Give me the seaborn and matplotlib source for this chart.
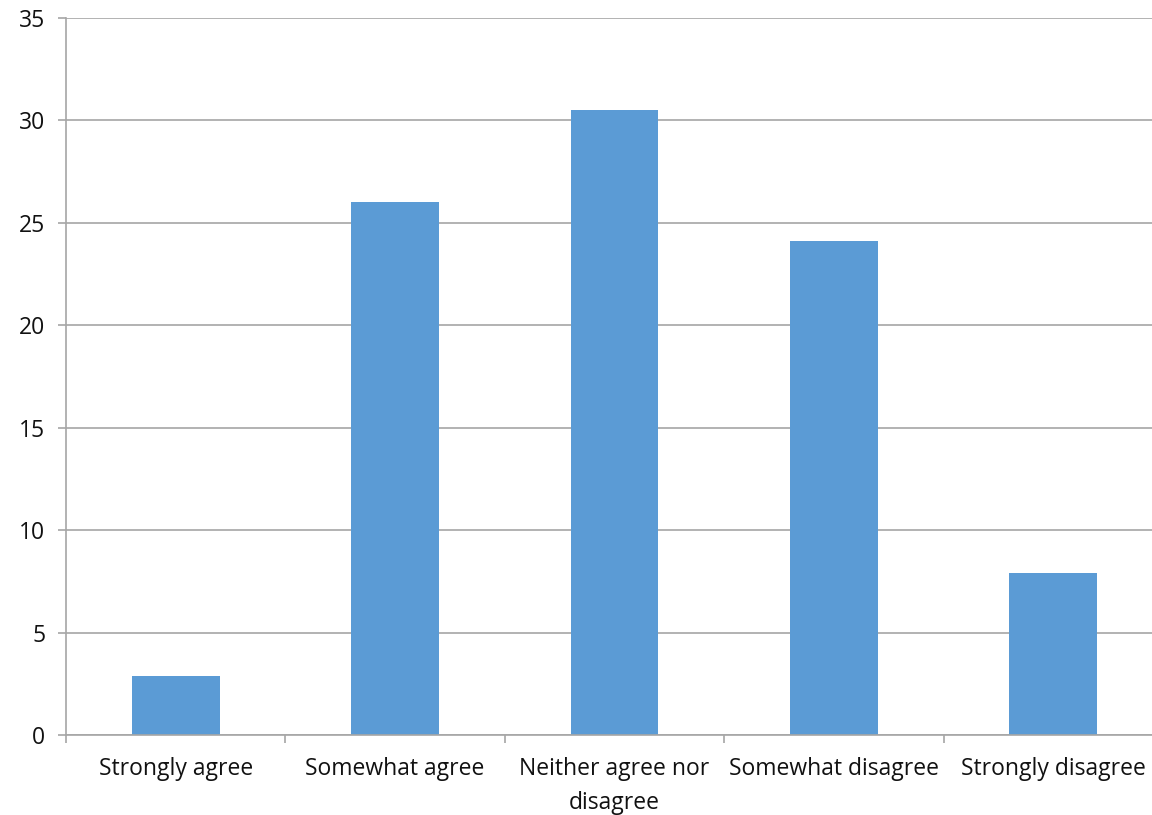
import matplotlib
matplotlib.use("Agg")
import matplotlib.pyplot as plt
import seaborn as sns
import pandas as pd
import numpy as np

categories = ["Strongly agree", "Somewhat agree", "Neither agree nor\ndisagree",
              "Somewhat disagree", "Strongly disagree"]
values = [2.9, 26.0, 30.5, 24.1, 7.9]
yticks = [0, 5, 10, 15, 20, 25, 30, 35]

sns.set_theme(style="white")
plt.rcParams['font.family'] = ['Open Sans', 'DejaVu Sans']

fig = plt.figure(figsize=(11.52, 8.15), dpi=100)
ax = fig.add_axes([66/1152, 80/815, 1097/1152, 717/815])

df = pd.DataFrame({"cat": categories, "val": values})
sns.barplot(data=df, x="cat", y="val", color="#5B9BD5", saturation=1, width=0.4,
            linewidth=0, ax=ax)

ax.set_xlim(-0.5, 4.5)
ax.set_ylim(0, 35)
ax.set_yticks(yticks)
ax.set_xlabel("")
ax.set_ylabel("")
ax.yaxis.grid(True, color="#A6A6A6", linewidth=1.2)
ax.set_axisbelow(True)
for s in ["top", "right"]:
    ax.spines[s].set_visible(False)
for s in ["left", "bottom"]:
    ax.spines[s].set_color("#A6A6A6")
    ax.spines[s].set_linewidth(1.2)

ax.tick_params(axis="y", length=6, color="#A6A6A6", width=1.2, labelsize=16.5, pad=9,
               left=True, labelcolor="#111111")
ax.tick_params(axis="x", which="major", length=0, labelsize=16.5, pad=16, labelcolor="#111111")
ax.set_xticks(np.arange(-0.5, 4.6, 1.0), minor=True)
ax.tick_params(axis="x", which="minor", length=6, color="#A6A6A6", width=1.2, bottom=True)
for lbl in ax.get_xticklabels():
    lbl.set_linespacing(1.55)

fig.savefig("out.png", dpi=100)
